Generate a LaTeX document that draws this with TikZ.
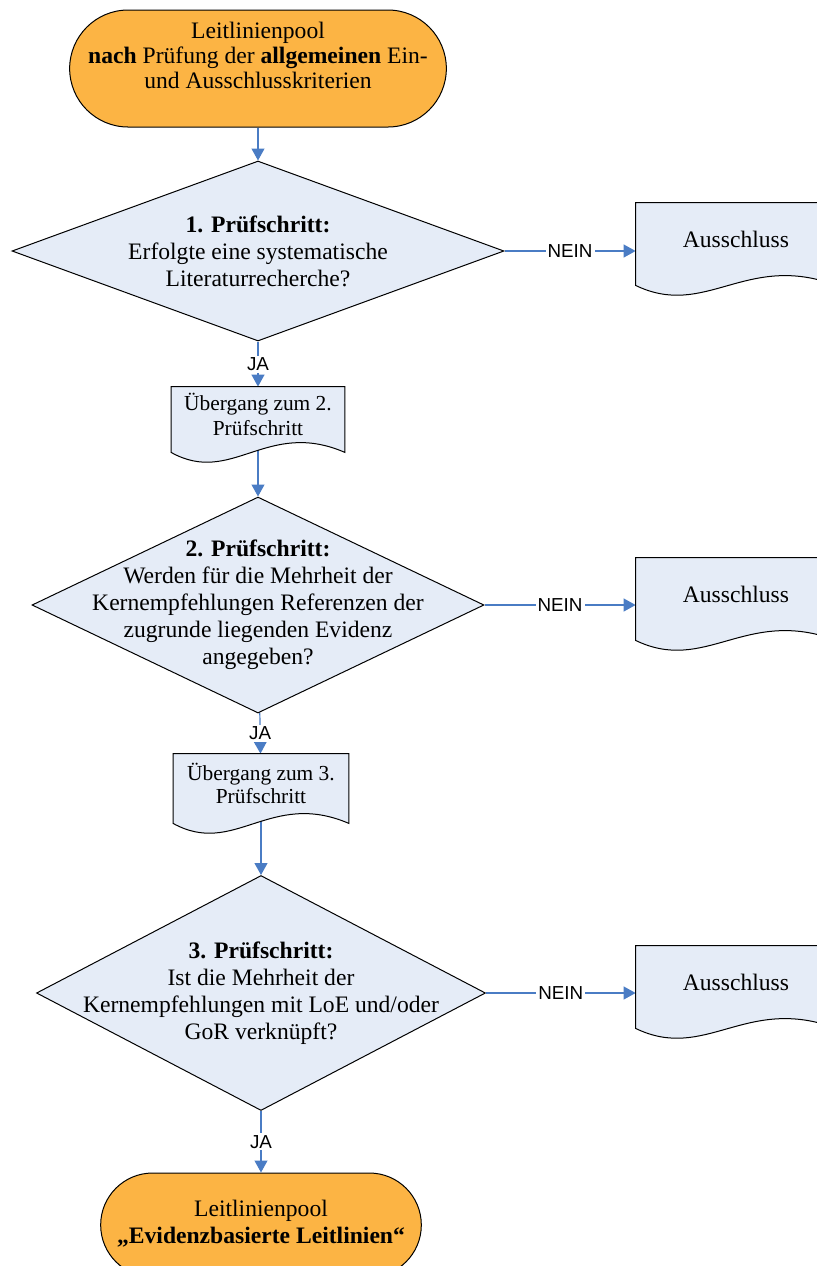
\documentclass[tikz,border=0pt]{standalone}
\usepackage{fontspec}
\setmainfont{Liberation Serif}
\setsansfont{Liberation Sans}
\usetikzlibrary{shapes.geometric,shapes.misc,arrows.meta,calc}

\definecolor{poolorange}{RGB}{252,180,68}
\definecolor{boxblue}{RGB}{229,236,247}
\definecolor{linkblue}{RGB}{74,124,196}

\pgfdeclarelayer{links}
\pgfdeclarelayer{shapes}
\pgfsetlayers{links,shapes,main}

% box with a wavy lower edge, drawn round a named node
\newcommand{\docshape}[1]{%
  \begin{pgfonlayer}{shapes}
    \filldraw[fill=boxblue,draw=black,line width=0.5pt]
      (#1.north west) -- (#1.north east) -- ([yshift=-5pt]#1.south east)
      .. controls ($(#1.south west)!0.55!(#1.south east)+(0pt,12pt)$)
      and ($(#1.south west)!0.35!(#1.south east)+(0pt,-22pt)$)
      .. ([yshift=-5pt]#1.south west) -- cycle;
  \end{pgfonlayer}}

\begin{document}
\begin{tikzpicture}[x=0.5pt,y=-0.5pt,
  pool_node/.style={rounded rectangle,draw,fill=poolorange,line width=0.5pt},
  check_node/.style={diamond,draw,fill=boxblue,inner sep=0pt,line width=0.5pt},
  doc_node/.style={rectangle,inner sep=0pt},
  text_node/.style={align=center,inner sep=0pt,font=\fontsize{11.8}{13.5}\selectfont},
  link/.style={draw,color=linkblue,line width=0.6pt,-{Triangle[length=6pt,width=6.5pt]}},
  yes_no/.style={fill=white,text=black,inner sep=1pt,font=\sffamily\fontsize{9.4}{10}\selectfont}]
				\useasboundingbox (0,0) rectangle (816,1266);

				% start and end of the pool
				\node[pool_node,minimum width=195pt,minimum height=58.5pt] (pool_in) at (258,68.5) {};
				\node[text_node,font=\fontsize{11.8}{12.5}\selectfont] (pool_in_text) at (258,55)
					{Leitlinienpool\\\textbf{nach} Prüfung der \textbf{allgemeinen} Ein-\\und Ausschlusskriterien};
				\node[pool_node,minimum width=167pt,minimum height=52pt] (pool_out) at (261,1225) {};
				\node[text_node] (pool_out_text) at (261,1223.5)
					{Leitlinienpool\\\textbf{„Evidenzbasierte Leitlinien“}};

				% the three checks
				\node[check_node,minimum width=246pt,minimum height=90pt] (check_1) at (258,251) {};
				\node[text_node] (check_1_text) at (check_1)
					{\textbf{1. Prüfschritt:}\\Erfolgte eine systematische\\Literaturrecherche?};
				\node[check_node,minimum width=226pt,minimum height=108pt] (check_2) at (258,605) {};
				\node[text_node] (check_2_text) at (check_2)
					{\textbf{2. Prüfschritt:}\\Werden für die Mehrheit der\\Kernempfehlungen Referenzen der\\zugrunde liegenden Evidenz\\angegeben?};
				\node[check_node,minimum width=224.5pt,minimum height=117.5pt] (check_3) at (261,993) {};
				\node[text_node] (check_3_text) at (check_3)
					{\textbf{3. Prüfschritt:}\\Ist die Mehrheit der\\Kernempfehlungen mit LoE und/oder\\GoR verknüpft?};

				% transitions
				\node[doc_node,text_node,font=\fontsize{10.7}{12.3}\selectfont,minimum width=86.5pt,minimum height=27.5pt] (step_2) at (258,414.5) {Übergang zum 2.\\Prüfschritt};
				\node[doc_node,text_node,font=\fontsize{10.7}{11.5}\selectfont,minimum width=87.5pt,minimum height=29.5pt] (step_3) at (261,783.5) {Übergang zum 3.\\Prüfschritt};
				\docshape{step_2}
				\docshape{step_3}

				% exclusions (cut by the right border)
				\node[doc_node,text_node,minimum width=100pt,minimum height=36pt] (out_1) at (736,239) {Ausschluss};
				\node[doc_node,text_node,minimum width=100pt,minimum height=36pt] (out_2) at (736,594) {Ausschluss};
				\node[doc_node,text_node,minimum width=100pt,minimum height=36pt] (out_3) at (736,982) {Ausschluss};
				\docshape{out_1}
				\docshape{out_2}
				\docshape{out_3}

				\begin{pgfonlayer}{links}
					\path[every edge/.style={link}]
					(pool_in) edge (check_1)
					(check_1) edge node[yes_no] {JA} (step_2)
					(step_2) edge (check_2)
					(check_2) edge node[yes_no] {JA} (step_3)
					(step_3) edge (check_3)
					(check_3) edge node[yes_no] {JA} (pool_out)
					(check_1.east) edge node[yes_no] {NEIN} (check_1.east -| out_1.west)
					(check_2.east) edge node[yes_no] {NEIN} (check_2.east -| out_2.west)
					(check_3.east) edge node[yes_no] {NEIN} (check_3.east -| out_3.west)
					;
				\end{pgfonlayer}
\end{tikzpicture}
\end{document}
